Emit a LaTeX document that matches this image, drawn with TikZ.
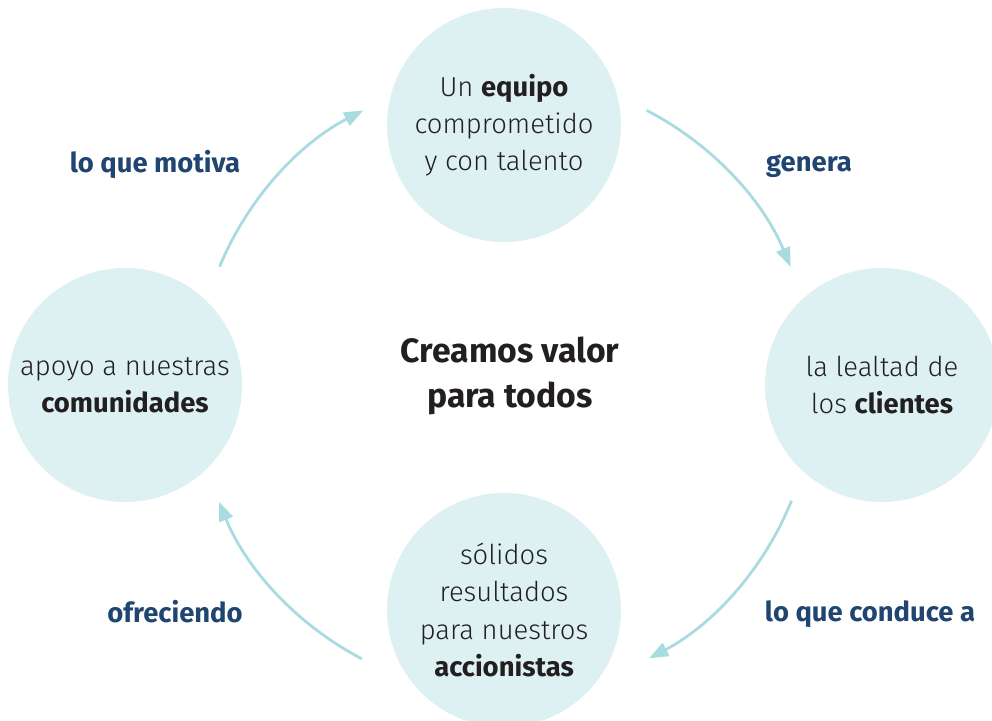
\documentclass[tikz,border=0pt]{standalone}
\usepackage{fontspec}
\setmainfont{Fira Sans}[UprightFont={* Light}, BoldFont={* Bold}]
\usepackage{tikz}
\usetikzlibrary{calc, arrows.meta, positioning}

\definecolor{bubblefill}{HTML}{DDF0F2}
\definecolor{flowcolor}{HTML}{A8DCE0}
\definecolor{verbcolor}{HTML}{1F4570}
\definecolor{inktext}{HTML}{231F20}

\begin{document}
\begin{tikzpicture}[
        bubble/.style={
            circle, fill=bubblefill, draw=none,
            minimum size=5.85cm, inner sep=0pt, align=center,
            text=inktext, font=\fontsize{19.5}{26.5}\selectfont
        },
        verb/.style={
            text=verbcolor, font=\fontsize{19.5}{24}\selectfont\bfseries
        },
        headline/.style={
            text=inktext, align=center,
            font=\fontsize{24}{32}\selectfont\bfseries
        },
        flow/.style={-{Triangle[length=0.48cm,width=0.36cm]}, line width=2pt, color=flowcolor}
    ]

    \useasboundingbox (0,0) rectangle (24.8,-18.025);

    % CENTRE OF THE CYCLE
    \coordinate (hub) at (12.625,-9.625);
    \node[headline] (title) at (12.75,-9.4) {Creamos valor\\para todos};

    % FOUR BUBBLES
    \node[bubble] (team) at (12.6,-3.125) {Un \textbf{equipo}\\comprometido\\y con talento};
    \node[bubble] (clients) at (22.05,-9.625) {la lealtad de\\los \textbf{clientes}};
    \node[bubble] (holders) at (12.6,-15.25) {sólidos\\resultados\\para nuestros\\\textbf{accionistas}};
    \node[bubble] (community) at (3.125,-9.625) {apoyo a nuestras\\\textbf{comunidades}};

    % VERBS BETWEEN THE BUBBLES
    \node[verb] (motiva) at (3.875,-4.1) {lo que motiva};
    \node[verb] (genera) at (20.225,-4.15) {genera};
    \node[verb] (conduce) at (21.75,-15.35) {lo que conduce a};
    \node[verb] (ofrece) at (4.375,-15.3) {ofreciendo};

    % ARROWS (arcs round the hub)
    \draw[flow] ($(hub)+(157.5:7.725)$) arc[start angle=157.5, end angle=117.3, radius=7.725];
    \draw[flow] ($(hub)+(62.7:7.725)$) arc[start angle=62.7, end angle=22.5, radius=7.725];
    \draw[flow] ($(hub)+(-22:7.725)$) arc[start angle=-22, end angle=-62.2, radius=7.725];
    \draw[flow] ($(hub)+(-117.6:7.725)$) arc[start angle=-117.6, end angle=-157.8, radius=7.725];

\end{tikzpicture}
\end{document}
